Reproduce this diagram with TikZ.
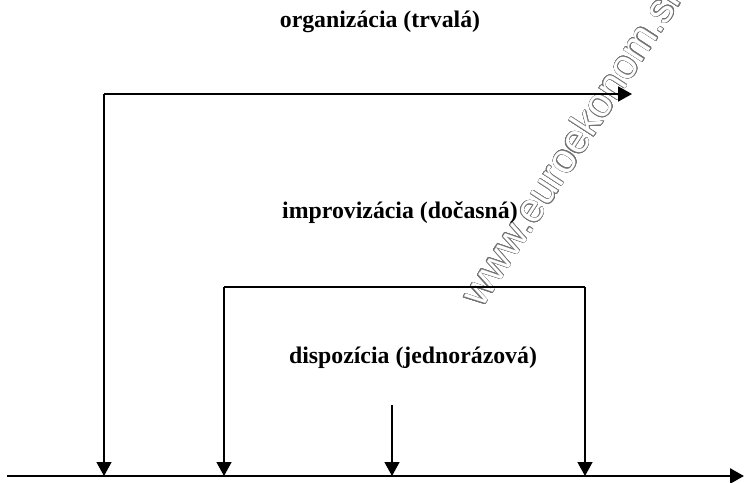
\documentclass[tikz,border=0pt]{standalone}
\usepackage{fontspec}
\setmainfont{Liberation Serif}
\newfontfamily\markfont{Liberation Sans}
\usepackage{contour}
\contourlength{0.5pt}
\contournumber{24}
\usetikzlibrary{arrows.meta}

\tikzset{
  label/.style={font=\bfseries\fontsize{23.8}{28}\selectfont, inner sep=0pt},
  bracket/.style={line width=2pt},
  leg/.style={line width=1.4pt, ->}
}

\begin{document}
\begin{tikzpicture}[x=1pt, y=-1pt, >={Triangle[width=15pt,length=14pt]}]
    %% Background
    \useasboundingbox (0,0) rectangle (744,482);

    %% Watermark
    \node[anchor=base west, inner sep=0pt, rotate=57]
      (mark) at (482,309)
      {\markfont\fontsize{41}{41}\selectfont\contour{black!55}{\textcolor{white}{www.euroekonom.sk}}};

    %% Labels
    \node[label] (org) at (380,22) {organizácia (trvalá)};
    \node[label] (imp) at (400,213) {improvizácia (dočasná)};
    \node[label] (dis) at (413,358) {dispozícia (jednorázová)};

    %% Time axis
    \coordinate (axisL) at (7,476);
    \coordinate (axisR) at (744,476);
    \draw[line width=2.6pt, ->] (axisL) -- (axisR);

    %% Corners and feet
    \coordinate (orgL) at (104,94);
    \coordinate (orgR) at (632,94);
    \coordinate (impL) at (224,287);
    \coordinate (impR) at (585,287);
    \coordinate (disT) at (392,405);
    \coordinate (orgF) at (104,476);
    \coordinate (impLF) at (224,476);
    \coordinate (impRF) at (585,476);
    \coordinate (disF) at (392,476);

    %% Organization
    \draw[bracket, ->] (orgL) -- (orgR);
    \draw[leg] (orgL) -- (orgF);

    %% Improvisation
    \draw[bracket] (impL) -- (impR);
    \draw[leg] (impL) -- (impLF);
    \draw[leg] (impR) -- (impRF);

    %% Disposition
    \draw[leg] (disT) -- (disF);

\end{tikzpicture}
\end{document}
